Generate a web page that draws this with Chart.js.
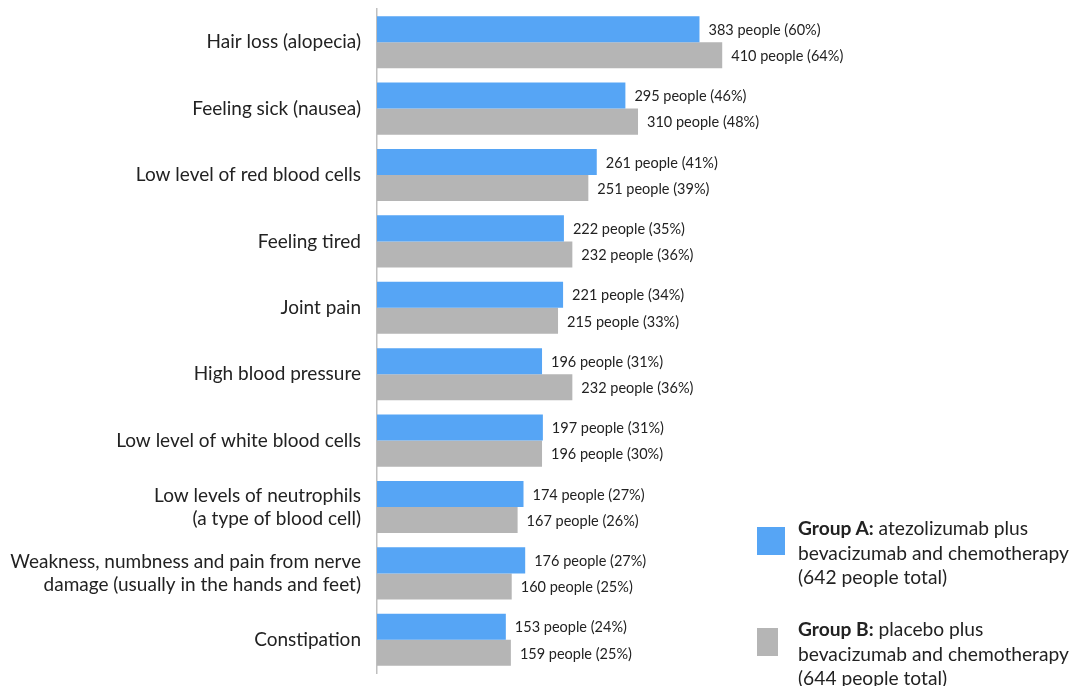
<!DOCTYPE html>
<html>
<head>
<meta charset="utf-8">
<script src="https://cdn.jsdelivr.net/npm/chart.js@4"></script>
<style>
  html, body { margin: 0; padding: 0; background: #fff; }
  #wrap { position: relative; width: 1070px; height: 686px; overflow: hidden; }
  canvas { position: absolute; left: 0; top: 0; }
  .leg { position: absolute; font-family: Lato, "Open Sans", sans-serif; font-size: 19.2px; line-height: 24.5px; color: #222; white-space: nowrap; }
  .sw { position: absolute; }
</style>
</head>
<body>
<div id="wrap">
  <canvas id="c" width="1070" height="686"></canvas>
  <div class="sw" style="left:757px;top:527px;width:28px;height:28px;background:#56A5F5;"></div>
  <div class="leg" style="left:798px;top:516px;"><b>Group A:</b> atezolizumab plus<br>bevacizumab and chemotherapy<br>(642 people total)</div>
  <div class="sw" style="left:757px;top:628px;width:21px;height:28px;background:#B5B5B5;"></div>
  <div class="leg" style="left:798px;top:617px;"><b>Group B:</b> placebo plus<br>bevacizumab and chemotherapy<br>(644 people total)</div>
</div>
<script>
const categories = [
  "Hair loss (alopecia)",
  "Feeling sick (nausea)",
  "Low level of red blood cells",
  "Feeling tired",
  "Joint pain",
  "High blood pressure",
  "Low level of white blood cells",
  ["Low levels of neutrophils", "(a type of blood cell)"],
  ["Weakness, numbness and pain from nerve", "damage (usually in the hands and feet)"],
  "Constipation"
];
const groupA = [383, 295, 261, 222, 221, 196, 197, 174, 176, 153];
const groupAPct = [60, 46, 41, 35, 34, 31, 31, 27, 27, 24];
const groupB = [410, 310, 251, 232, 215, 232, 196, 167, 160, 159];
const groupBPct = [64, 48, 39, 36, 33, 36, 30, 26, 25, 25];
const pctLists = [groupAPct, groupBPct];

const valueLabels = {
  id: 'valueLabels',
  afterDatasetsDraw(chart) {
    const ctx = chart.ctx;
    ctx.save();
    ctx.font = '14.5px Lato, "Open Sans", sans-serif';
    ctx.fillStyle = '#222';
    ctx.textAlign = 'left';
    ctx.textBaseline = 'middle';
    chart.data.datasets.forEach((ds, di) => {
      const meta = chart.getDatasetMeta(di);
      meta.data.forEach((bar, i) => {
        const txt = ds.data[i] + ' people (' + pctLists[di][i] + '%)';
        ctx.fillText(txt, bar.x + 9, bar.y + 1);
      });
    });
    ctx.restore();
  }
};

new Chart(document.getElementById('c'), {
  type: 'bar',
  data: {
    labels: categories,
    datasets: [
      { label: 'Group A', data: groupA, backgroundColor: '#56A5F5', borderWidth: 0 },
      { label: 'Group B', data: groupB, backgroundColor: '#B5B5B5', borderWidth: 0 }
    ]
  },
  options: {
    indexAxis: 'y',
    responsive: false,
    animation: false,
    devicePixelRatio: 1,
    layout: { padding: { top: 9, bottom: 13, left: 0, right: 272 } },
    datasets: { bar: { categoryPercentage: 0.785, barPercentage: 1.0 } },
    plugins: { legend: { display: false }, tooltip: { enabled: false } },
    scales: {
      x: { display: false, min: 0, max: 500 },
      y: {
        afterFit: s => { s.width = 377; s.paddingTop = 0; s.paddingBottom = 0; },
        grid: { display: false, drawTicks: false },
        border: { display: true, color: '#BFBFBF', width: 1.5 },
        ticks: {
          padding: 16,
          color: '#222',
          font: { family: 'Lato, "Open Sans", sans-serif', size: 19 },
          lineHeight: 1.37
        }
      }
    }
  },
  plugins: [valueLabels]
});
</script>
</body>
</html>
